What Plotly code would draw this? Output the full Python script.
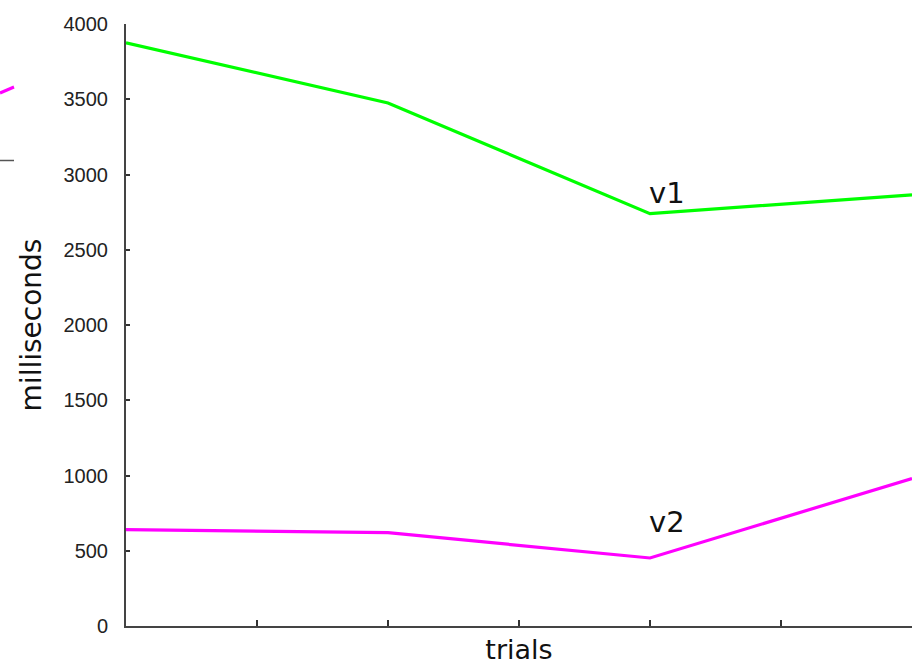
import plotly.graph_objects as go

trials = [1, 2, 3, 4]
v1_ms = [3875, 3475, 2740, 2865]
v2_ms = [640, 620, 452, 980]
series_names = ["v1", "v2"]
series_colors = ["#00ff00", "#ff00ff"]
y_ticks = [0, 500, 1000, 1500, 2000, 2500, 3000, 3500, 4000]
label_y = [2880, 690]

W, H = 913, 666
L, R, T, B = 126, 1, 24, 40
pw = W - L - R
ph = H - T - B

fig = go.Figure()
for name, ys, col in zip(series_names, [v1_ms, v2_ms], series_colors):
    fig.add_trace(go.Scatter(x=trials, y=ys, mode="lines", name=name,
                             line=dict(color=col, width=3.2), showlegend=False))

for name, yv in zip(series_names, label_y):
    fig.add_annotation(x=trials[2], y=yv, text=name, showarrow=False,
                       xanchor="left", yanchor="middle", xshift=-3,
                       font=dict(family="DejaVu Sans", size=29, color="#111"))

def px_x(p):
    return (p - L) / pw

def px_y(p):
    return 1 - (p - T) / ph

# cut-off legend fragments at the left edge
fig.add_shape(type="line", xref="paper", yref="paper",
              x0=px_x(0), x1=px_x(14), y0=px_y(93), y1=px_y(87),
              line=dict(color="#ff00ff", width=3))
fig.add_shape(type="line", xref="paper", yref="paper",
              x0=px_x(0), x1=px_x(14), y0=px_y(160.5), y1=px_y(160.5),
              line=dict(color="#555", width=1.5))

fig.update_layout(
    width=W, height=H,
    margin=dict(l=L, r=R, t=T, b=B, pad=0),
    plot_bgcolor="white", paper_bgcolor="white",
    xaxis=dict(range=[1, 4], tick0=1, dtick=0.5, ticks="inside", ticklen=6,
               tickwidth=1.5, tickcolor="#333", showticklabels=False,
               showgrid=False, zeroline=False, showline=True, linecolor="#444",
               linewidth=2,
               title=dict(text="trials", standoff=13,
                          font=dict(family="DejaVu Sans", size=27, color="#111"))),
    yaxis=dict(range=[0, 4000], tickvals=y_ticks, ticks="inside", ticklen=4,
               tickwidth=1.5, tickcolor="#333", ticklabelstandoff=12,
               tickfont=dict(family="Liberation Sans", size=20, color="#222"),
               showgrid=False, zeroline=False, showline=True, linecolor="#444",
               linewidth=2,
               title=dict(text="milliseconds", standoff=14,
                          font=dict(family="DejaVu Sans", size=28, color="#111"))),
)

fig.write_html("out.html")
